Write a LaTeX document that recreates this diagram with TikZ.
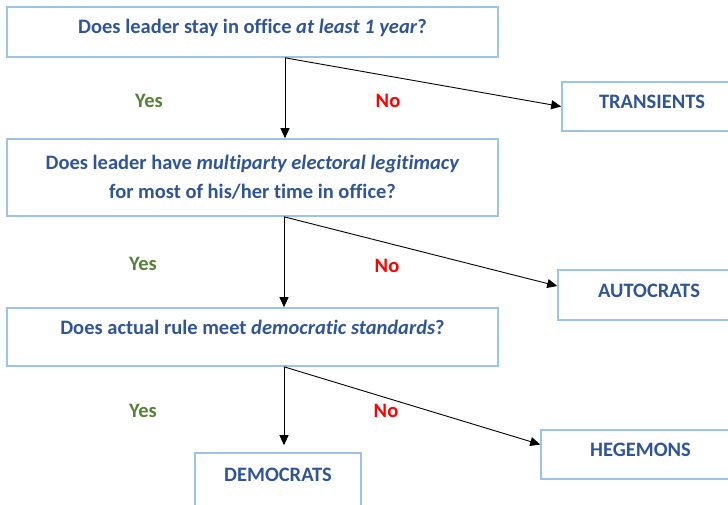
\documentclass[tikz,border=0pt]{standalone}
\usepackage{fontspec}
\setmainfont{Carlito}[Ligatures=NoCommon]
\usetikzlibrary{arrows.meta}

\definecolor{qblue}{HTML}{2F5597}
\definecolor{boxline}{HTML}{9DC3E6}
\definecolor{yesgreen}{HTML}{548235}
\definecolor{nored}{HTML}{FF0000}

\begin{document}
\begin{tikzpicture}[x=1pt, y=-1pt,
      every node/.style = {font=\fontsize{20.5}{29}\selectfont\bfseries},
      question/.style = {draw=boxline, line width=1.6pt, rectangle,
                         minimum width=491pt, text=qblue, align=center},
      outcome/.style = {draw=boxline, line width=1.6pt, rectangle,
                        text=qblue, text height=14pt, text depth=10pt},
      yes/.style = {text=yesgreen},
      no/.style = {text=nored},
      arrow/.style = {line width=0.9pt, -{Triangle[length=10pt, width=9pt]}}]
    \clip (0,0) rectangle (728,504);

    % questions
    \node[question, minimum height=50pt, text height=14pt, text depth=12pt]
      (q1) at (252.5,32) {Does leader stay in office \textit{at least 1 year}?};
    \node[question, minimum height=77pt]
      (q2) at (252.5,177.5) {Does leader have \textit{multiparty electoral legitimacy}\\
                             for most of his/her time in office?};
    \node[question, minimum height=58pt, text height=14pt, text depth=19pt]
      (q3) at (252.5,337) {Does actual rule meet \textit{democratic standards}?};

    % outcomes
    \node[outcome, minimum width=180pt, minimum height=49pt] (trans) at (652,106.5) {TRANSIENTS};
    \node[outcome, minimum width=182pt, minimum height=50pt] (autoc) at (649,295) {AUTOCRATS};
    \node[outcome, minimum width=199pt, minimum height=49pt] (hegem) at (640.5,454.5) {HEGEMONS};
    \node[outcome, minimum width=166pt, minimum height=62pt, text depth=19pt]
      (democ) at (278,484) {DEMOCRATS};

    % answers
    \node[yes] (yes1) at (149,101) {Yes};
    \node[no]  (no1)  at (388,101) {No};
    \node[yes] (yes2) at (143,264) {Yes};
    \node[no]  (no2)  at (387,266) {No};
    \node[yes] (yes3) at (143,411) {Yes};
    \node[no]  (no3)  at (386,411) {No};

    % branches
    \draw[arrow] ([xshift=32.5pt]q1.south) -- ([xshift=32.5pt]q2.north);
    \draw[arrow] ([xshift=32.5pt]q1.south) -- ([yshift=0pt]trans.west);
    \draw[arrow] ([xshift=31.5pt]q2.south) -- ([xshift=31.5pt]q3.north);
    \draw[arrow] ([xshift=31.5pt]q2.south) -- ([yshift=9pt]autoc.west);
    \draw[arrow, shorten >=7pt] ([xshift=31.5pt]q3.south) -- ([xshift=6pt]democ.north);
    \draw[arrow] ([xshift=31.5pt]q3.south) -- ([yshift=10pt]hegem.west);
  \end{tikzpicture}
\end{document}
